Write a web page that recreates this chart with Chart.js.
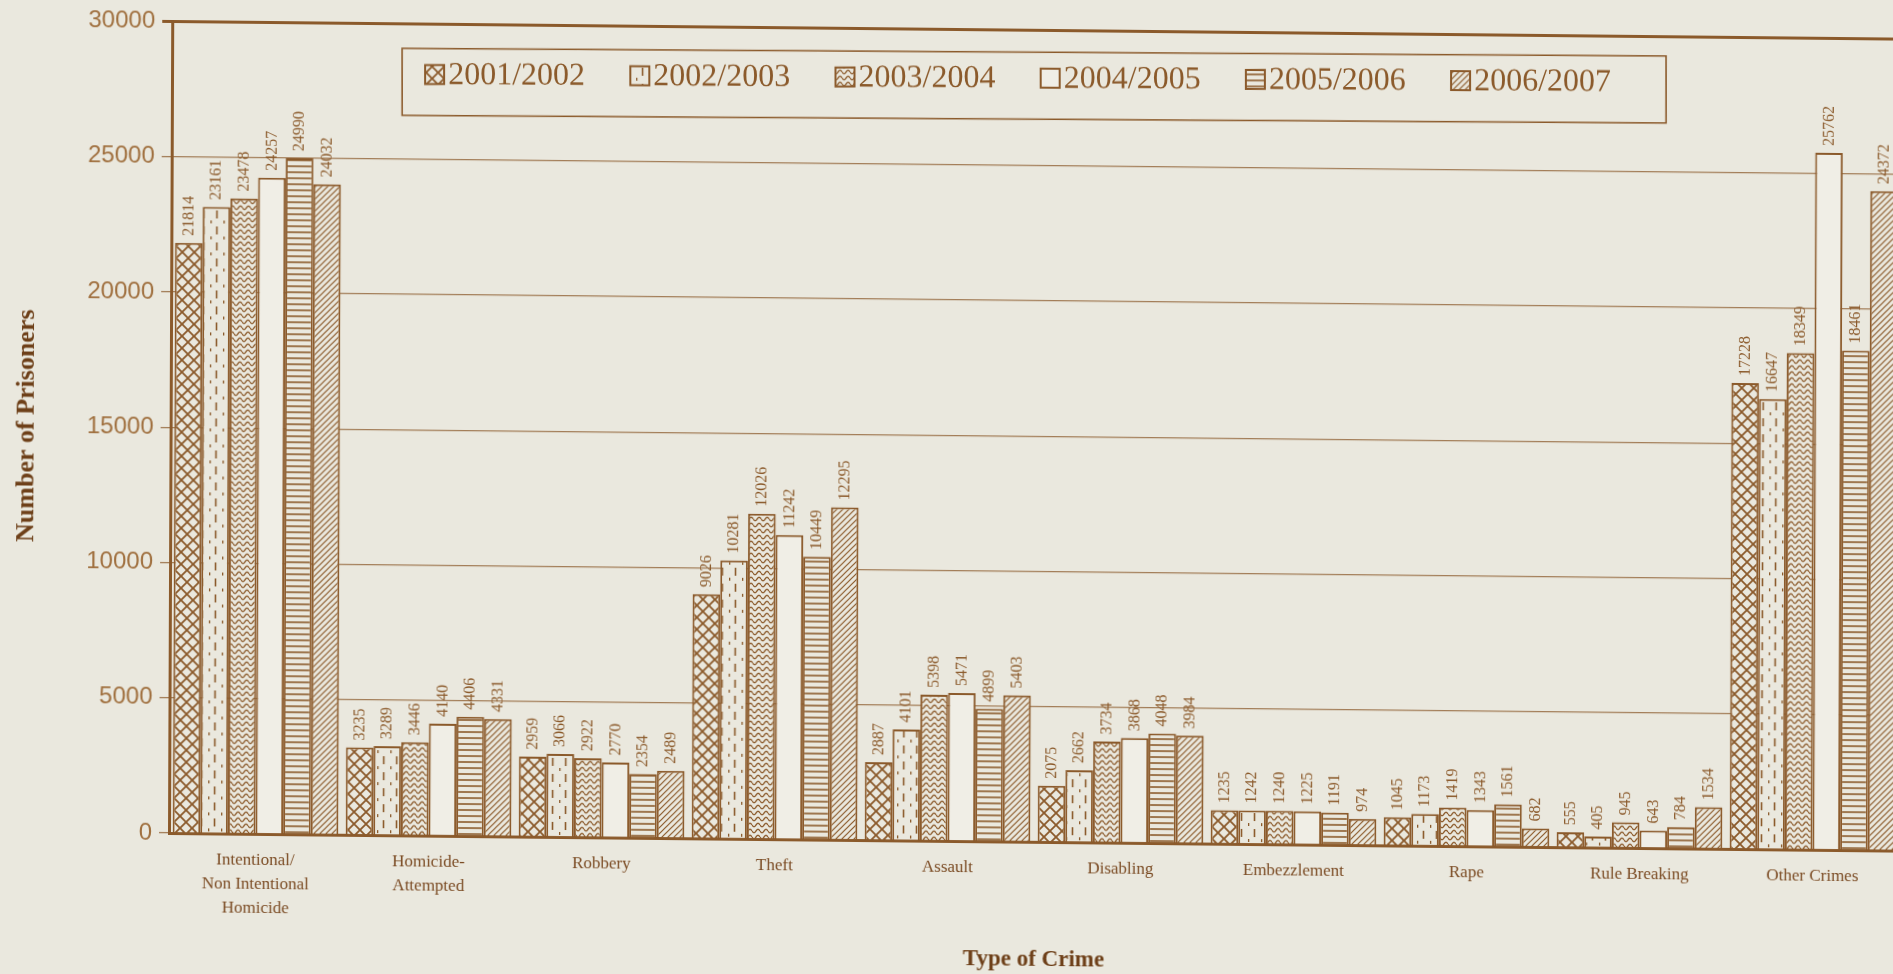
<!DOCTYPE html>
<html>
<head>
<meta charset="utf-8">
<script src="https://cdn.jsdelivr.net/npm/chart.js@4.4.1/dist/chart.umd.min.js"></script>
<style>
  html, body { margin: 0; padding: 0; background: #eae8de; overflow: hidden; }
  #wrap { width: 1910px; height: 974px; }
  /* the printed page sits slightly askew */
  #c { transform-origin: 169px 833px; transform: matrix(1, 0.0102, -0.004, 1, 0, 0); }
</style>
</head>
<body>
<div id="wrap"><canvas id="c" width="1910" height="974"></canvas></div>
<script>
// Prisoners by type of crime, per reporting year
const categories = [
  ["Intentional/", "Non Intentional", "Homicide"],
  ["Homicide-", "Attempted"],
  "Robbery", "Theft", "Assault", "Disabling",
  "Embezzlement", "Rape", "Rule Breaking", "Other Crimes"
];
const seasons = ["2001/2002", "2002/2003", "2003/2004", "2004/2005", "2005/2006", "2006/2007"];

const y2001_02 = [21814, 3235, 2959,  9026, 2887, 2075, 1235, 1045,  555, 17228];
const y2002_03 = [23161, 3289, 3066, 10281, 4101, 2662, 1242, 1173,  405, 16647];
const y2003_04 = [23478, 3446, 2922, 12026, 5398, 3734, 1240, 1419,  945, 18349];
const y2004_05 = [24257, 4140, 2770, 11242, 5471, 3868, 1225, 1343,  643, 25762];
const y2005_06 = [24990, 4406, 2354, 10449, 4899, 4048, 1191, 1561,  784, 18461];
const y2006_07 = [24032, 4331, 2489, 12295, 5403, 3984,  974,  682, 1534, 24372];

const yTicks = [0, 5000, 10000, 15000, 20000, 25000, 30000];

const series = [y2001_02, y2002_03, y2003_04, y2004_05, y2005_06, y2006_07];

const PAPER = '#eae8de';
const INK = '#8b5a2b';

// Hatch fills, one per year
function makePattern(kind) {
  const c = document.createElement('canvas');
  const g = c.getContext('2d');
  let w = 12, h = 12;
  if (kind === 'cross') { w = 12; h = 12; }
  if (kind === 'dash') { w = 13; h = 16; }
  if (kind === 'wave') { w = 8; h = 6; }
  if (kind === 'plain') { w = 4; h = 4; }
  if (kind === 'hline') { w = 4; h = 6; }
  if (kind === 'diag') { w = 6; h = 6; }
  c.width = w; c.height = h;
  g.fillStyle = kind === 'plain' ? '#f0eee6' : PAPER;
  g.fillRect(0, 0, w, h);
  g.strokeStyle = INK;
  g.lineCap = 'butt';
  g.beginPath();
  if (kind === 'cross') {
    g.lineWidth = 1.8;
    g.moveTo(-1, -1); g.lineTo(w + 1, h + 1);
    g.moveTo(w + 1, -1); g.lineTo(-1, h + 1);
  } else if (kind === 'dash') {
    g.lineWidth = 1.6;
    g.moveTo(6.5, 2); g.lineTo(6.5, 10);
    g.moveTo(0.5, 12); g.lineTo(0.5, 15);
  } else if (kind === 'wave') {
    g.lineWidth = 1.3;
    for (let x = 0; x <= w; x += 0.5) {
      const y = 3 + 1.7 * Math.sin(2 * Math.PI * x / w);
      if (x === 0) g.moveTo(x, y); else g.lineTo(x, y);
    }
  } else if (kind === 'hline') {
    g.lineWidth = 1.6;
    g.moveTo(0, 3); g.lineTo(w, 3);
  } else if (kind === 'diag') {
    g.lineWidth = 1.2;
    g.moveTo(0, h); g.lineTo(w, 0);
    g.moveTo(-1, 1); g.lineTo(1, -1);
    g.moveTo(w - 1, h + 1); g.lineTo(w + 1, h - 1);
  }
  g.stroke();
  return g.createPattern(c, 'repeat');
}

const patternKinds = ['cross', 'dash', 'wave', 'plain', 'hline', 'diag'];
const fills = patternKinds.map(makePattern);

// Rotated value labels above each bar
const valueLabels = {
  id: 'valueLabels',
  afterDatasetsDraw(chart) {
    const ctx = chart.ctx;
    ctx.save();
    ctx.fillStyle = INK;
    ctx.font = '16px "Liberation Serif"';
    ctx.textAlign = 'left';
    ctx.textBaseline = 'middle';
    chart.data.datasets.forEach((ds, i) => {
      const meta = chart.getDatasetMeta(i);
      meta.data.forEach((bar, j) => {
        ctx.save();
        ctx.translate(bar.x, bar.y - 7);
        ctx.rotate(-Math.PI / 2);
        ctx.fillText(String(ds.data[j]), 0, 0);
        ctx.restore();
      });
    });
    ctx.restore();
  }
};

// Boxed legend inside the plot
const boxLegend = {
  id: 'boxLegend',
  afterDraw(chart) {
    const ctx = chart.ctx;
    const box = { x: 399, y: 46, w: 1264, h: 67 };
    ctx.save();
    ctx.translate(box.x, box.y);
    ctx.rotate(-0.0042);
    ctx.fillStyle = PAPER;
    ctx.fillRect(0, 0, box.w, box.h);
    ctx.strokeStyle = INK;
    ctx.lineWidth = 1.6;
    ctx.strokeRect(0, 0, box.w, box.h);
    ctx.font = '32px "Liberation Serif"';
    ctx.textBaseline = 'middle';
    ctx.textAlign = 'left';
    const startX = 23, pitch = 205.2, cy = 26, s = 19;
    chart.data.datasets.forEach((ds, i) => {
      const x = startX + i * pitch;
      ctx.fillStyle = ds.backgroundColor;
      ctx.fillRect(x, cy - s / 2, s, s);
      ctx.lineWidth = 2;
      ctx.strokeStyle = INK;
      ctx.strokeRect(x, cy - s / 2, s, s);
      ctx.fillStyle = INK;
      ctx.fillText(ds.label, x + s + 4, cy + 1);
    });
    ctx.restore();
  }
};

new Chart(document.getElementById('c'), {
  type: 'bar',
  data: {
    labels: categories,
    datasets: series.map((d, i) => ({
      label: seasons[i],
      data: d,
      backgroundColor: fills[i],
      borderColor: INK,
      borderWidth: 2
    }))
  },
  options: {
    responsive: false,
    animation: false,
    layout: { padding: { top: 20, right: 11, bottom: 4, left: 0 } },
    datasets: { bar: { categoryPercentage: 0.958, barPercentage: 1.0 } },
    plugins: { legend: { display: false }, tooltip: { enabled: false } },
    scales: {
      x: {
        grid: { display: false, drawTicks: false },
        border: { display: true, color: INK, width: 3 },
        ticks: {
          color: '#7a4a22',
          font: { family: 'Liberation Serif', size: 17, lineHeight: 1.41 },
          padding: 15,
          maxRotation: 0,
          autoSkip: false
        },
        title: {
          display: true,
          text: 'Type of Crime',
          color: '#6e4019',
          font: { family: 'Liberation Serif', size: 23, weight: 'bold' },
          padding: { top: 0, bottom: 5 }
        },
        afterFit(scale) { scale.height = 137; }
      },
      y: {
        min: 0,
        max: 30000,
        afterBuildTicks(scale) { scale.ticks = yTicks.map(v => ({ value: v })); },
        ticks: {
          color: '#a0703f',
          font: { family: 'Liberation Sans', size: 24 },
          padding: 7,
          callback: v => String(v)
        },
        grid: {
          color: ctx => (ctx.tick && ctx.tick.value === 30000) ? INK : 'rgba(139,90,43,0.75)',
          lineWidth: ctx => (ctx.tick && ctx.tick.value === 30000) ? 3 : 1.3,
          tickLength: 10
        },
        border: { display: true, color: INK, width: 3 },
        title: {
          display: true,
          text: 'Number of Prisoners',
          color: '#6e4019',
          font: { family: 'Liberation Serif', size: 26, weight: 'bold' },
          padding: { top: 10, bottom: 0 }
        },
        afterFit(scale) { scale.width = 169; }
      }
    }
  },
  plugins: [valueLabels, boxLegend]
});
</script>
</body>
</html>
